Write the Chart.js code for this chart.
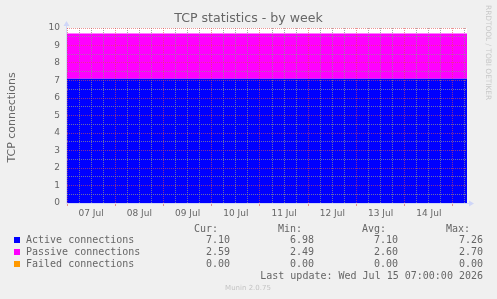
<!DOCTYPE html>
<html>
<head>
<meta charset="utf-8">
<script src="https://cdn.jsdelivr.net/npm/chart.js@4/dist/chart.umd.min.js"></script>
<style>
html,body{margin:0;padding:0;background:#F0F0F0;}
canvas{display:block;}
</style>
</head>
<body>
<canvas id="c" width="497" height="299"></canvas>
<script>
// ---- data (hours since 07 Jul 00:00) ----
const times   = [0, 24, 48, 72, 96, 120, 144, 168, 192, 199];
const active  = [7.10, 7.10, 7.10, 7.10, 7.10, 7.10, 7.10, 7.10, 7.10, 7.10];
const passive = [2.58, 2.58, 2.58, 2.58, 2.58, 2.58, 2.58, 2.58, 2.58, 2.58];
const failed  = [0, 0, 0, 0, 0, 0, 0, 0, 0, 0];
const dayLabels = ['07 Jul', '08 Jul', '09 Jul', '10 Jul', '11 Jul', '12 Jul', '13 Jul', '14 Jul'];
const seriesNames = ['Active connections', 'Passive connections', 'Failed connections'];
const seriesColors = ['#0000FF', '#FF00FF', '#FF9900'];
const curVals = ['7.10', '2.59', '0.00'];
const minVals = ['6.98', '2.49', '0.00'];
const avgVals = ['7.10', '2.60', '0.00'];
const maxVals = ['7.26', '2.70', '0.00'];
const titleText = 'TCP statistics - by week';
const yTitle = 'TCP connections';
const lastUpdate = 'Last update: Wed Jul 15 07:00:00 2026';

const GRID = 'rgba(143,143,143,0.75)';
const MGRID = 'rgba(222,79,79,0.6)';
const AXIS = '#CFD6F8';
const FONT = '#666666';

function pts(vals) { return times.map((t, i) => ({x: t, y: vals[i]})); }

const deco = {
  id: 'deco',
  beforeDraw(chart) {
    const {ctx, chartArea: a} = chart;
    ctx.save();
    ctx.fillStyle = '#F0F0F0';
    ctx.fillRect(0, 0, chart.width, chart.height);
    ctx.fillStyle = '#FFFFFF';
    ctx.fillRect(a.left, a.top, a.right - a.left, a.bottom - a.top);
    ctx.restore();
  },
  afterDraw(chart) {
    const {ctx, chartArea: a} = chart;
    ctx.save();
    // axes
    ctx.strokeStyle = AXIS;
    ctx.fillStyle = AXIS;
    ctx.lineWidth = 1;
    ctx.beginPath();
    ctx.moveTo(a.left - 0.5, a.bottom + 0.5);
    ctx.lineTo(a.right + 3, a.bottom + 0.5);
    ctx.moveTo(a.left - 0.5, a.bottom + 0.5);
    ctx.lineTo(a.left - 0.5, a.top - 3);
    ctx.stroke();
    ctx.beginPath();
    ctx.moveTo(a.right + 7, a.bottom + 0.5);
    ctx.lineTo(a.right + 2, a.bottom - 2.5);
    ctx.lineTo(a.right + 2, a.bottom + 3.5);
    ctx.closePath(); ctx.fill();
    ctx.beginPath();
    ctx.moveTo(a.left - 0.5, a.top - 7);
    ctx.lineTo(a.left - 3.5, a.top - 2);
    ctx.lineTo(a.left + 2.5, a.top - 2);
    ctx.closePath(); ctx.fill();

    // title
    ctx.fillStyle = FONT;
    ctx.textAlign = 'center';
    ctx.textBaseline = 'middle';
    ctx.font = "12.6px 'DejaVu Sans'";
    ctx.fillText(titleText, chart.width / 2, 19);

    // y title
    ctx.save();
    ctx.translate(12, (a.top + a.bottom) / 2 + 2);
    ctx.rotate(-Math.PI / 2);
    ctx.font = "11px 'DejaVu Sans'";
    ctx.fillText(yTitle, 0, 0);
    ctx.restore();

    // watermark
    ctx.save();
    ctx.translate(488, 5);
    ctx.rotate(Math.PI / 2);
    ctx.textAlign = 'left';
    ctx.fillStyle = '#C8C8C8';
    ctx.font = "7.4px 'DejaVu Sans'";
    ctx.fillText('RRDTOOL / TOBI OETIKER', 0, 0);
    ctx.restore();

    // legend
    ctx.font = "10px 'DejaVu Sans Mono'";
    ctx.fillStyle = FONT;
    ctx.textAlign = 'right';
    const hy = 229;
    ctx.fillText('Cur:', 218, hy);
    ctx.fillText('Min:', 302, hy);
    ctx.fillText('Avg:', 386, hy);
    ctx.fillText('Max:', 470, hy);
    for (let i = 0; i < seriesNames.length; i++) {
      const y = 240 + i * 12;
      ctx.fillStyle = seriesColors[i];
      ctx.fillRect(14, y - 3, 6, 6);
      ctx.fillStyle = FONT;
      ctx.textAlign = 'left';
      ctx.fillText(seriesNames[i], 26, y);
      ctx.textAlign = 'right';
      ctx.fillText(curVals[i], 230, y);
      ctx.fillText(minVals[i], 314, y);
      ctx.fillText(avgVals[i], 398, y);
      ctx.fillText(maxVals[i], 483, y);
    }
    ctx.fillText(lastUpdate, 483, 276);

    ctx.textAlign = 'center';
    ctx.fillStyle = '#C4C4C4';
    ctx.font = "7px 'DejaVu Sans'";
    ctx.fillText('Munin 2.0.75', 248, 288);
    ctx.restore();
  }
};

new Chart(document.getElementById('c'), {
  type: 'line',
  data: {
    datasets: [
      {label: seriesNames[0], data: pts(active), backgroundColor: seriesColors[0], borderWidth: 0, pointRadius: 0, fill: 'origin', stepped: true},
      {label: seriesNames[1], data: pts(passive), backgroundColor: seriesColors[1], borderWidth: 0, pointRadius: 0, fill: '-1', stepped: true},
      {label: seriesNames[2], data: pts(failed), backgroundColor: seriesColors[2], borderWidth: 0, pointRadius: 0, fill: '-1', stepped: true}
    ]
  },
  options: {
    responsive: false,
    animation: false,
    devicePixelRatio: 1,
    layout: {padding: {top: 28, right: 30, bottom: 76, left: 0}},
    plugins: {legend: {display: false}, tooltip: {enabled: false}, title: {display: false}},
    scales: {
      x: {
        type: 'linear',
        min: 0, max: 199,
        afterBuildTicks(scale) {
          const t = [];
          for (let v = 0; v <= 198; v += 6) t.push({value: v});
          scale.ticks = t;
        },
        afterFit(scale) { scale.height = 20; },
        ticks: {
          autoSkip: false, maxRotation: 0, minRotation: 0,
          color: FONT, font: {family: 'DejaVu Sans', size: 9}, padding: 2,
          callback: (v) => (v % 24 === 12 ? dayLabels[(v - 12) / 24] : '')
        },
        grid: {
          z: 1,
          color: (c) => (c.tick && c.tick.value % 24 === 0 ? MGRID : GRID),
          tickColor: (c) => (c.tick && c.tick.value % 24 === 0 ? MGRID : 'rgba(0,0,0,0)'),
          tickLength: 3, lineWidth: 1
        },
        border: {display: false, dash: [1, 1]}
      },
      y: {
        type: 'linear',
        stacked: true,
        min: 0, max: 10,
        afterFit(scale) { scale.width = 67; },
        ticks: {
          stepSize: 0.5, autoSkip: false,
          color: FONT, font: {family: 'DejaVu Sans', size: 9}, padding: 7,
          callback: (v) => (Number.isInteger(v) ? String(v) : '')
        },
        grid: {
          z: 1, drawTicks: false,
          color: (c) => (c.tick && Number.isInteger(c.tick.value) ? MGRID : GRID),
          lineWidth: 1
        },
        border: {display: false, dash: [1, 1]}
      }
    }
  },
  plugins: [deco]
});
</script>
</body>
</html>
